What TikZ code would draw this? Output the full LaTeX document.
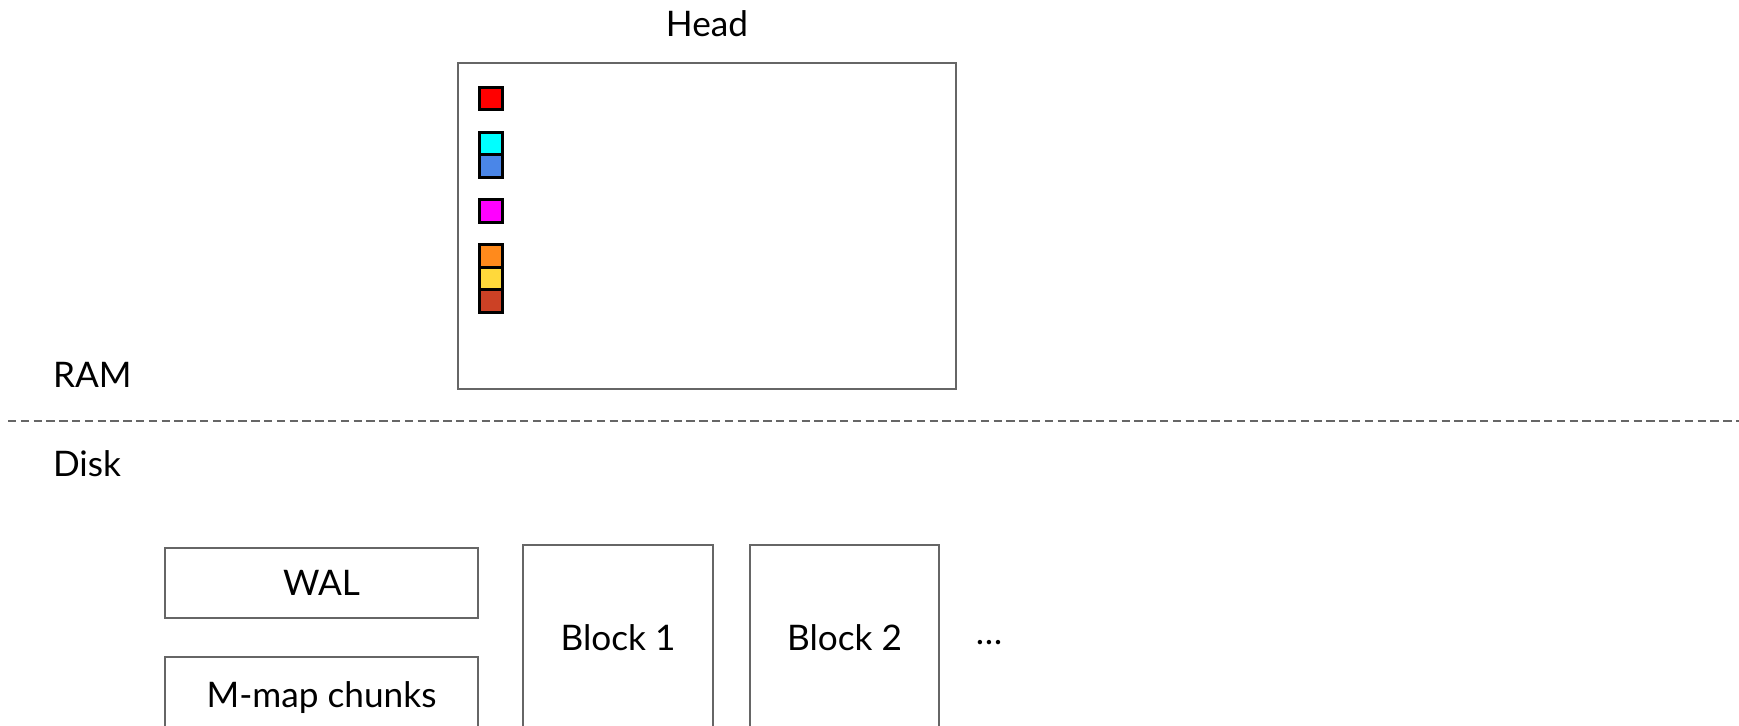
\documentclass[tikz,border=0pt]{standalone}
\usepackage{fontspec}
\setmainfont{Lato}
\definecolor{edge}{HTML}{666666}
\definecolor{sqred}{HTML}{FF0000}
\definecolor{sqcyan}{HTML}{00FFFF}
\definecolor{sqblue}{HTML}{4A86E8}
\definecolor{sqmag}{HTML}{FF00FF}
\definecolor{sqorange}{HTML}{FF8A1C}
\definecolor{sqyellow}{HTML}{FFD93B}
\definecolor{sqbrown}{HTML}{CC4125}
\tikzset{
  txt/.style={inner sep=0pt, outer sep=0pt, font=\fontsize{17.6}{20}\selectfont},
  box/.style={txt, draw=edge, line width=1pt, align=center, text height=12.5pt, text depth=0pt},
  sq/.style={draw=black, line width=1.5pt, minimum width=11.5pt, minimum height=11.25pt, inner sep=0pt, outer sep=0pt},
  sep/.style={draw=edge, line width=1pt, dash pattern=on 4.2pt off 2.2pt},
}
\begin{document}
\begin{tikzpicture}[x=0.5pt, y=-0.5pt]
\useasboundingbox (0,0) rectangle (1739,726);
% RAM area
\node[txt, anchor=base] (headlbl) at (707,37) {Head};
\node[box, minimum width=249pt, minimum height=163pt] (head) at (707,226) {};
\node[sq, fill=sqred]    (s1) at (490.5,98.75) {};
\node[sq, fill=sqcyan]   (s2) at (490.5,143.75) {};
\node[sq, fill=sqblue]   (s3) at (490.5,166.25) {};
\node[sq, fill=sqmag]    (s4) at (490.5,211.25) {};
\node[sq, fill=sqorange] (s5) at (490.5,256.25) {};
\node[sq, fill=sqyellow] (s6) at (490.5,278.75) {};
\node[sq, fill=sqbrown]  (s7) at (490.5,301.25) {};
\node[txt, anchor=base west] (ram) at (53,388) {RAM};
% separator
\coordinate (sepL) at (8,421);
\coordinate (sepR) at (1739,421);
\draw[sep] (sepL) -- (sepR);
% Disk area
\node[txt, anchor=base west] (disk) at (53,477) {Disk};
\node[box, minimum width=156.5pt, minimum height=35pt] (wal) at (321.5,583) {WAL};
\node[box, minimum width=156.5pt, minimum height=38pt] (mmap) at (321.5,695) {M-map chunks};
\node[box, minimum width=95pt, minimum height=93pt] (b1) at (618,638) {Block 1};
\node[box, minimum width=94.5pt, minimum height=93pt] (b2) at (844.5,638) {Block 2};
\node[txt] (dots) at (989,643) {…};
\end{tikzpicture}
\end{document}
